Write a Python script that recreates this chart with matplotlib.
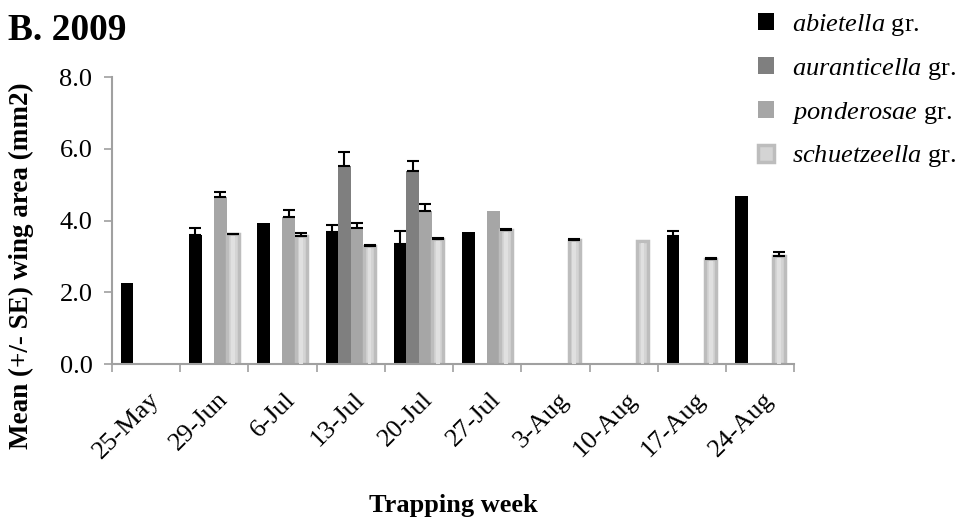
import numpy as np
import matplotlib
matplotlib.use("Agg")
import matplotlib.pyplot as plt
from matplotlib.patches import Patch
from matplotlib.transforms import ScaledTranslation

plt.rcParams["font.family"] = ["Liberation Serif", "DejaVu Serif"]
plt.rcParams["mathtext.fontset"] = "custom"
plt.rcParams["mathtext.it"] = "Liberation Serif:italic"
plt.rcParams["mathtext.rm"] = "Liberation Serif"

weeks = ["25-May", "29-Jun", "6-Jul", "13-Jul", "20-Jul",
         "27-Jul", "3-Aug", "10-Aug", "17-Aug", "24-Aug"]
groups = ["abietella", "auranticella", "ponderosae", "schuetzeella"]

nan = np.nan
abietella = [2.26, 3.60, 3.93, 3.68, 3.35, 3.67, nan, nan, 3.56, 4.69]
abietella_se = [0, 0.20, 0, 0.21, 0.35, 0, 0, 0, 0.16, 0]
auranticella = [nan, nan, nan, 5.52, 5.39, nan, nan, nan, nan, nan]
auranticella_se = [0, 0, 0, 0.39, 0.28, 0, 0, 0, 0, 0]
ponderosae = [nan, 4.65, 4.09, 3.79, 4.28, 4.28, nan, nan, nan, nan]
ponderosae_se = [0, 0.16, 0.21, 0.15, 0.18, 0, 0, 0, 0, 0]
schuetzeella = [nan, 3.62, 3.57, 3.30, 3.48, 3.74, 3.47, 3.44, 2.94, 3.02]
schuetzeella_se = [0, 0.02, 0.09, 0.02, 0.03, 0.03, 0.03, 0, 0.03, 0.11]

series = [abietella, auranticella, ponderosae, schuetzeella]
errors = [abietella_se, auranticella_se, ponderosae_se, schuetzeella_se]
colors = ["#000000", "#7f7f7f", "#a6a6a6", "#d4d4d4"]

fig = plt.figure(figsize=(9.64, 5.21), dpi=100)
ax = fig.add_axes([0.116, 0.301, 0.708, 0.551])

x = np.arange(len(weeks))
width = 0.184
offsets = np.array([-1.5, -0.5, 0.5, 1.5]) * width
gray = "#a0a0a0"

handles = []
for i, (vals, se, col) in enumerate(zip(series, errors, colors)):
    vals = np.array(vals, dtype=float)
    se = np.array(se, dtype=float)
    xpos = x + offsets[i]
    if i == 3:
        # lighter column with a soft border and a pale centre stripe
        ax.bar(xpos, vals, width * 0.9, color=col, edgecolor="#bdbdbd",
               linewidth=2.5, zorder=2)
        ax.bar(xpos, vals - 0.06, width * 0.3, color="#e0e0e0",
               linewidth=0, zorder=3)
        handles.append(Patch(facecolor=col, edgecolor="#bdbdbd", linewidth=2.5))
    else:
        ax.bar(xpos, vals, width, color=col, linewidth=0, zorder=2)
        handles.append(Patch(facecolor=col, linewidth=0))
    show = ~np.isnan(vals) & (se > 0)
    ax.errorbar(xpos[show], vals[show], yerr=[np.zeros(show.sum()), se[show]],
                fmt="none", ecolor="black", elinewidth=1.5, capsize=4.5,
                capthick=1.5, zorder=4)

ax.set_xlim(-0.5, len(weeks) - 0.5)
ax.set_ylim(0, 8)
ax.set_yticks([0, 2, 4, 6, 8])
ax.set_yticklabels(["0.0", "2.0", "4.0", "6.0", "8.0"], fontsize=19)
ax.set_xticks(x)
ax.set_xticklabels(weeks, fontsize=19, rotation=45, ha="right",
                   rotation_mode="anchor", va="center")
ax.set_xticks(np.arange(len(weeks) + 1) - 0.5, minor=True)
ax.tick_params(axis="x", which="major", length=0, pad=23)
ax.tick_params(axis="x", which="minor", length=6, width=1.2, color=gray)
ax.tick_params(axis="y", length=6, width=1.2, color=gray, pad=8)

# nudge the slanted week labels a little to the right
shift = ScaledTranslation(0.10, 0, fig.dpi_scale_trans)
for lbl in ax.get_xticklabels():
    lbl.set_transform(lbl.get_transform() + shift)

for side in ["top", "right"]:
    ax.spines[side].set_visible(False)
for side in ["left", "bottom"]:
    ax.spines[side].set_color(gray)
    ax.spines[side].set_linewidth(1.5)

labels = [r"$\it{%s}$ gr." % g for g in groups]
fig.legend(handles, labels, loc="upper left", bbox_to_anchor=(0.770, 1.008),
           frameon=False, fontsize=19, handlelength=0.6, handleheight=0.6,
           handletextpad=0.7, labelspacing=0.68, borderaxespad=0.2)

fig.text(0.008, 1 - 40 / 521, "B. 2009", fontsize=27, fontweight="bold",
         va="baseline", ha="left")
fig.text(0.022, 1 - 266 / 521, "Mean (+/- SE) wing area (mm2)", fontsize=19.5,
         fontweight="bold", rotation=90, ha="center", va="center")
fig.text(453 / 964, 1 - 512 / 521, "Trapping week", fontsize=19,
         fontweight="bold", ha="center", va="baseline")

fig.savefig("out.png", dpi=100)
